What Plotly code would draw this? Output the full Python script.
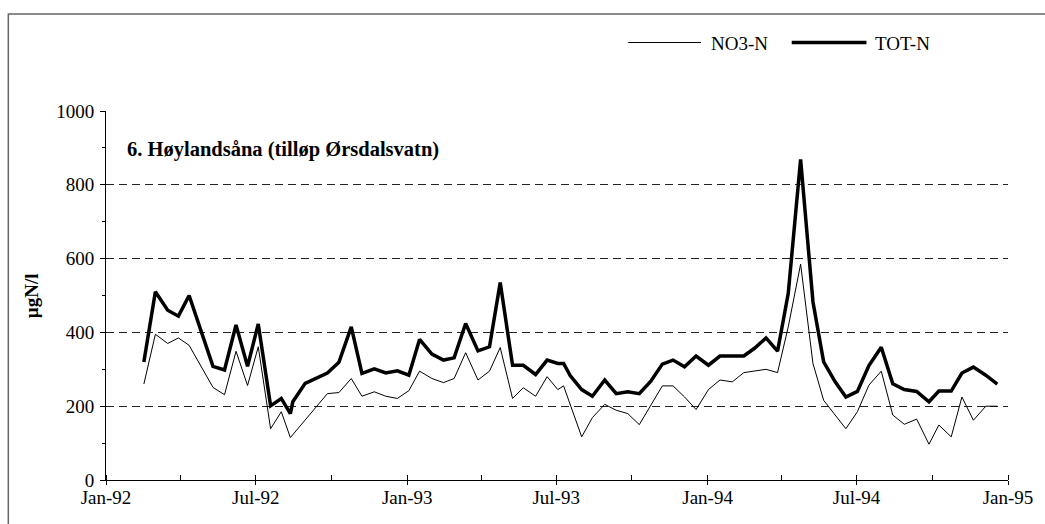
import plotly.graph_objects as go

dates = [
    "1992-02-16", "1992-03-01", "1992-03-16", "1992-03-29", "1992-04-11", "1992-05-10",
    "1992-05-24", "1992-06-07", "1992-06-21", "1992-07-04", "1992-07-19", "1992-08-01",
    "1992-08-12", "1992-08-15", "1992-08-30", "1992-09-12", "1992-09-26", "1992-10-10",
    "1992-10-25", "1992-11-07", "1992-11-22", "1992-12-06", "1992-12-20", "1993-01-03",
    "1993-01-16", "1993-01-31", "1993-02-14", "1993-02-27", "1993-03-13", "1993-03-28",
    "1993-04-11", "1993-04-24", "1993-05-09", "1993-05-22", "1993-06-06", "1993-06-20",
    "1993-07-03", "1993-07-10", "1993-07-18", "1993-08-01", "1993-08-14", "1993-08-29",
    "1993-09-12", "1993-09-26", "1993-10-10", "1993-10-24", "1993-11-07", "1993-11-20",
    "1993-12-04", "1993-12-18", "1994-01-02", "1994-01-16", "1994-01-31", "1994-02-14",
    "1994-02-27", "1994-03-13", "1994-03-27", "1994-04-09", "1994-04-24", "1994-05-09",
    "1994-05-22", "1994-06-05", "1994-06-18", "1994-07-02", "1994-07-16", "1994-07-31",
    "1994-08-14", "1994-08-28", "1994-09-12", "1994-09-27", "1994-10-09", "1994-10-24",
    "1994-11-06", "1994-11-20", "1994-12-05", "1994-12-19",
]

tot_n = [
    320, 510, 460, 444, 500, 308,
    298, 420, 308, 423, 201, 221,
    180, 212, 262, 275, 290, 319,
    415, 289, 301, 290, 296, 284,
    381, 341, 325, 331, 424, 350,
    361, 535, 311, 311, 286, 325,
    316, 316, 283, 245, 227, 271,
    234, 239, 234, 268, 314, 325,
    307, 336, 311, 336, 336, 336,
    357, 385, 349, 506, 869, 483,
    320, 266, 225, 240, 310, 360,
    261, 245, 240, 212, 241, 241,
    290, 306, 284, 260,
]

no3_n = [
    260, 395, 370, 385, 365, 251,
    231, 349, 256, 361, 139, 185,
    115, None, None, None, 234, 237,
    275, 227, 239, 227, 221, 242,
    295, 275, 264, 275, 345, 271,
    295, 359, 221, 250, 227, 280,
    245, 255, None, 117, 169, 205,
    189, 180, 150, 203, 255, 255,
    225, 191, 245, 271, 266, 291,
    296, 300, 291, 415, 585, 316,
    216, None, 139, 185, 257, 295,
    176, 151, 165, 97, 149, 117,
    225, 162, 200, 200,
]

series_names = ["NO3-N", "TOT-N"]
title_text = "6. Høylandsåna (tilløp Ørsdalsvatn)"
y_title = "µgN/l"

FONT = "Liberation Serif"

fig = go.Figure()
fig.add_trace(go.Scatter(x=dates, y=no3_n, mode="lines", name=series_names[0],
                         line=dict(color="black", width=1), connectgaps=True))
fig.add_trace(go.Scatter(x=dates, y=tot_n, mode="lines", name=series_names[1],
                         line=dict(color="black", width=3.5), connectgaps=True))

W, H = 1045, 524
L, R, T, B = 106, 34, 111, 44
pw = W - L - R
ph = H - T - B

def px(xp):
    return (xp - L) / pw

def py(yp):
    return (H - B - yp) / ph

fig.update_layout(
    width=W, height=H,
    margin=dict(l=L, r=R, t=T, b=B),
    paper_bgcolor="white", plot_bgcolor="white",
    showlegend=False,
    font=dict(family=FONT, size=19, color="black"),
    xaxis=dict(
        type="date",
        range=["1992-01-01", "1995-01-01"],
        tick0="1992-01-01", dtick="M6", tickformat="%b-%y",
        ticks="outside", ticklen=4, tickcolor="black", tickwidth=1,
        ticklabelstandoff=-4,
        showline=True, linecolor="black", linewidth=1,
        showgrid=False, zeroline=False,
        minor=dict(dtick="M3", tick0="1992-01-01", ticks="inside", ticklen=5,
                   tickcolor="black", tickwidth=1, showgrid=False),
        tickfont=dict(family=FONT, size=19, color="black"),
    ),
    yaxis=dict(
        range=[0, 1000], dtick=200, tick0=0,
        ticks="outside", ticklen=5, tickcolor="black", tickwidth=1,
        ticklabelstandoff=2,
        showline=True, linecolor="black", linewidth=1,
        showgrid=True, gridcolor="#222", gridwidth=1, griddash="8px,5px",
        zeroline=False,
        minor=dict(dtick=100, ticks="outside", ticklen=3, tickcolor="black",
                   tickwidth=1, showgrid=False),
        tickfont=dict(family=FONT, size=19, color="black"),
    ),
)

shapes = [
    # outer frame
    dict(type="rect", xref="paper", yref="paper",
         x0=px(8), x1=px(1200), y0=py(700), y1=py(14),
         line=dict(color="#666", width=1.5), fillcolor="rgba(0,0,0,0)", layer="below"),
    # legend samples
    dict(type="line", xref="paper", yref="paper",
         x0=px(630), x1=px(703), y0=py(42.5), y1=py(42.5),
         line=dict(color="black", width=1)),
    dict(type="line", xref="paper", yref="paper",
         x0=px(794), x1=px(869), y0=py(42.5), y1=py(42.5),
         line=dict(color="black", width=3.5)),
]

annotations = [
    dict(text=series_names[0], xref="paper", yref="paper", x=px(711), y=py(43),
         xanchor="left", yanchor="middle", showarrow=False,
         font=dict(family=FONT, size=19, color="black")),
    dict(text=series_names[1], xref="paper", yref="paper", x=px(876), y=py(43),
         xanchor="left", yanchor="middle", showarrow=False,
         font=dict(family=FONT, size=19, color="black")),
    dict(text="<b>" + title_text + "</b>", xref="paper", yref="paper",
         x=px(125), y=py(149), xanchor="left", yanchor="middle", showarrow=False,
         font=dict(family=FONT, size=20.5, color="black")),
    dict(text="<b>" + y_title + "</b>", xref="paper", yref="paper",
         x=px(31), y=py(296), xanchor="center", yanchor="middle", showarrow=False,
         textangle=-90, font=dict(family=FONT, size=19, color="black")),
]

fig.update_layout(shapes=shapes, annotations=annotations)

fig.write_html("out.html", config={"displayModeBar": False},
               post_script="document.body.style.margin='0';document.body.style.padding='0';")
